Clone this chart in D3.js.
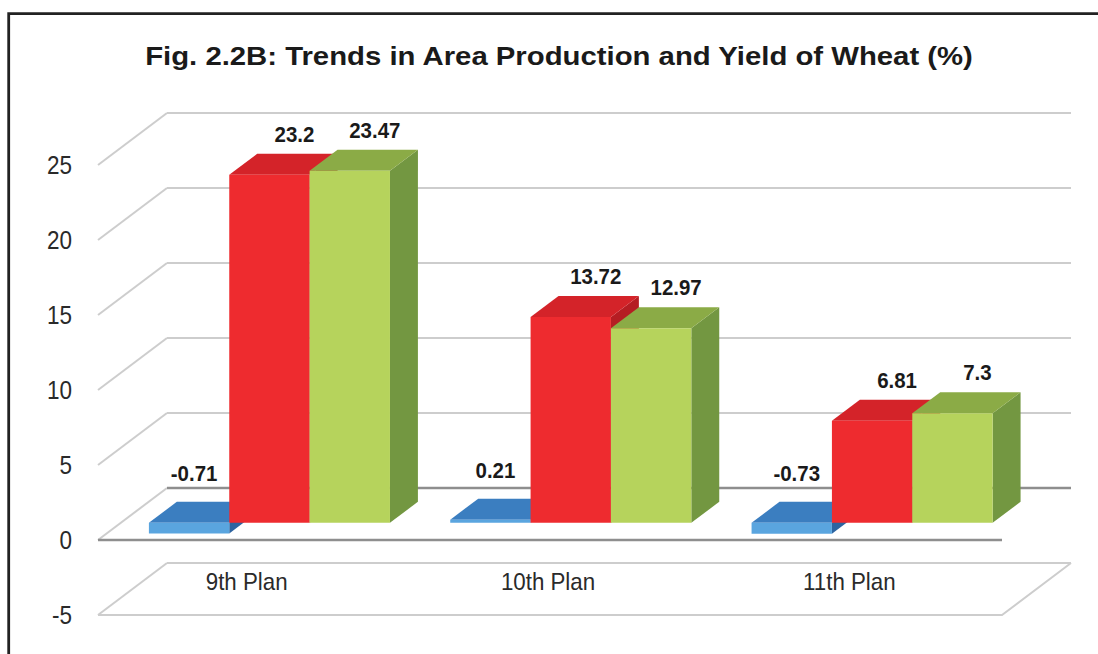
<!DOCTYPE html>
<html>
<head>
<meta charset="utf-8">
<script src="https://cdn.jsdelivr.net/npm/d3@7"></script>
<style>
  html, body { margin: 0; padding: 0; background: #fff; }
  svg { display: block; font-family: "Liberation Sans", Arial, Helvetica, sans-serif; }
</style>
</head>
<body>
<svg id="chart" width="1098" height="654"></svg>
<script>
// Growth in wheat area, production and yield by Five-Year Plan (%)
const categories = ["9th Plan", "10th Plan", "11th Plan"];
const seriesNames = ["Area", "Production", "Yield"];
const area = [-0.71, 0.21, -0.73];
const production = [23.2, 13.72, 6.81];
const yieldPct = [23.47, 12.97, 7.3];
const yTicks = [-5, 0, 5, 10, 15, 20, 25];
const titleText = "Fig. 2.2B: Trends in Area Production and Yield of Wheat (%)";

const seriesValues = { Area: area, Production: production, Yield: yieldPct };

// face shading per series: front, top, right side
const palette = {
  Area:       { front: "#5aa5df", top: "#3b7ec0", side: "#2d64a0", labelDx: 5,  labelDy: -42 },
  Production: { front: "#ee2b2f", top: "#d42329", side: "#b51d23", labelDx: 25, labelDy: -33 },
  Yield:      { front: "#b6d35c", top: "#8bab46", side: "#739741", labelDx: 25, labelDy: -33 }
};

const svg = d3.select("#chart");

// oblique projection: depth runs up and to the right
const DEPTH_X = 69, DEPTH_Y = -52;
const BAR_F0 = 0.33, BAR_F1 = 0.735;   // bar slab position inside the depth

const wallRange = [98, 1002];
const x = d3.scaleBand().domain(categories).range([96, 1000])
  .paddingInner(0.2).paddingOuter(0.1);
const xs = d3.scaleBand().domain(seriesNames).range([0, x.bandwidth()]).padding(0);
const y = d3.scaleLinear().domain([-5, 25]).range([615, 165]);

const proj = (px, v, f) => [px + f * DEPTH_X, y(v) + f * DEPTH_Y];

// outer frame
svg.append("path")
  .attr("d", "M8.7,660 L8.7,13.7 L1105,13.7")
  .attr("fill", "none").attr("stroke", "#222").attr("stroke-width", 2.8);

// title
const title = svg.append("text")
  .attr("x", 0).attr("y", 0)
  .attr("text-anchor", "middle")
  .attr("font-size", 25).attr("font-weight", "bold").attr("fill", "#1a1a1a")
  .text(titleText);
{
  const w = title.node().getComputedTextLength();
  title.attr("transform", `translate(559,65) scale(${828 / w},1)`);
}

// walls and gridlines
const grid = svg.append("g");
const [xL, xR] = wallRange;
yTicks.forEach(t => {
  const f0 = proj(xL, t, 0), b0 = proj(xL, t, 1), b1 = proj(xR, t, 1);
  const dark = t === 0;
  grid.append("line")
    .attr("x1", f0[0]).attr("y1", f0[1]).attr("x2", b0[0]).attr("y2", b0[1])
    .attr("stroke", "#cdcdcd").attr("stroke-width", 2);
  grid.append("line")
    .attr("x1", b0[0]).attr("y1", b0[1]).attr("x2", b1[0]).attr("y2", b1[1])
    .attr("stroke", dark ? "#8e8e8e" : "#cdcdcd").attr("stroke-width", dark ? 2.6 : 2);
});
// floor outline at the axis minimum
{
  const t = y.domain()[0];
  const a = proj(xL, t, 0), b = proj(xR, t, 0), c = proj(xR, t, 1);
  grid.append("path")
    .attr("d", `M${a[0]},${a[1]} L${b[0]},${b[1]} L${c[0]},${c[1]}`)
    .attr("fill", "none").attr("stroke", "#cdcdcd").attr("stroke-width", 2);
}
// zero baseline at the front
{
  const a = proj(xL, 0, 0), b = proj(xR, 0, 0);
  grid.append("line")
    .attr("x1", a[0]).attr("y1", a[1]).attr("x2", b[0]).attr("y2", b[1])
    .attr("stroke", "#8e8e8e").attr("stroke-width", 2.6);
}

// value axis labels
svg.append("g").selectAll("text").data(yTicks).join("text")
  .attr("transform", d => `translate(72,${y(d)}) scale(0.9,1)`)
  .attr("text-anchor", "end").attr("dy", "0.36em")
  .attr("font-size", 25).attr("fill", "#2a2a2a")
  .text(d => d);

// category labels on the floor
svg.append("g").selectAll("text").data(categories).join("text")
  .attr("transform", d => `translate(${x(d) + x.bandwidth() / 2},590) scale(0.93,1)`)
  .attr("text-anchor", "middle")
  .attr("font-size", 24).attr("fill", "#2a2a2a")
  .text(d => d);

// 3D bars, drawn left to right so each covers the previous side face
const bars = svg.append("g");
const pts = p => p.map(q => q.join(",")).join(" ");
categories.forEach((cat, i) => {
  seriesNames.forEach(s => {
    const v = seriesValues[s][i];
    const c = palette[s];
    const left = x(cat) + xs(s), right = left + xs.bandwidth();
    const top = Math.max(v, 0), bot = Math.min(v, 0);
    // front face
    const fl = proj(left, top, BAR_F0), fr = proj(right, top, BAR_F0);
    const blf = proj(left, bot, BAR_F0), brf = proj(right, bot, BAR_F0);
    // back corners
    const bl = proj(left, top, BAR_F1), br = proj(right, top, BAR_F1);
    const bbr = proj(right, bot, BAR_F1);
    const g = bars.append("g");
    g.append("polygon").attr("points", pts([fr, br, bbr, brf])).attr("fill", c.side);
    g.append("polygon").attr("points", pts([fl, bl, br, fr])).attr("fill", c.top);
    g.append("polygon").attr("points", pts([fl, fr, brf, blf])).attr("fill", c.front);
  });
});

// value labels
const labels = svg.append("g");
categories.forEach((cat, i) => {
  seriesNames.forEach(s => {
    const v = seriesValues[s][i];
    const c = palette[s];
    const cx = x(cat) + xs(s) + xs.bandwidth() / 2;
    const p = proj(cx, Math.max(v, 0), BAR_F0);
    labels.append("text")
      .attr("transform", `translate(${p[0] + c.labelDx},${p[1] + c.labelDy}) scale(0.93,1)`)
      .attr("text-anchor", "middle")
      .attr("font-size", 22).attr("font-weight", "bold").attr("fill", "#1a1a1a")
      .text(v);
  });
});
</script>
</body>
</html>
